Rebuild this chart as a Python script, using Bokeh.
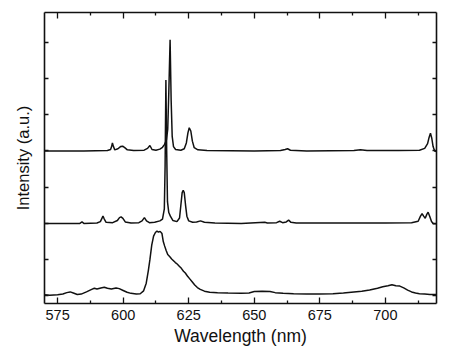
from bokeh.plotting import figure
from bokeh.models import LinearAxis, FixedTicker, Range1d, CustomLabelingPolicy
from bokeh.embed import file_html
from bokeh.resources import INLINE

# ---- data ----
top_x = [570, 585, 594, 595.2, 595.6, 595.9, 596.3, 596.8, 598, 599, 599.8, 600.6, 601.6, 604, 608,
         609.3, 610.2, 611, 612.5, 614, 615, 615.8, 616.5, 617.0, 617.4, 617.9, 618.3, 618.7, 619.2,
         620, 622, 623.3, 624.1, 624.7, 625.2, 625.8, 626.4, 627.1, 628.5, 632, 650, 660, 661.8,
         662.7, 663.8, 670, 688, 690.5, 693, 705, 713, 715, 716.1, 716.7, 717.2, 717.7, 718.2,
         718.8, 719.5]
top_y = [4.0, 4.0, 4.01, 4.04, 4.12, 4.22, 4.12, 4.03, 4.06, 4.12, 4.13, 4.09, 4.03, 4.01, 4.02,
         4.07, 4.15, 4.04, 4.02, 4.05, 4.1, 4.18, 4.3, 4.6, 5.6, 7.07, 5.4, 4.4, 4.12,
         4.04, 4.02, 4.06, 4.22, 4.5, 4.64, 4.55, 4.27, 4.09, 4.03, 4.01, 4.0, 4.01, 4.04,
         4.06, 4.02, 4.0, 4.01, 4.03, 4.01, 4.01, 4.02, 4.07, 4.2, 4.38, 4.49, 4.35, 4.12,
         4.0, 3.98]

mid_x = [570, 583.5, 584.3, 585, 590, 591.3, 591.9, 592.3, 592.8, 593.5, 596, 597.8, 598.6, 599.2,
         599.9, 600.8, 603, 606, 607.2, 608.1, 608.9, 610, 612, 614, 615, 615.7, 616.0, 616.3,
         616.6, 616.9, 617.4, 618, 619, 620.5, 621.5, 622, 622.5, 622.9, 623.3, 623.8, 624.3,
         625, 626.5, 628, 629.5, 631, 635, 645, 654, 655, 658.5, 659.7, 660.8, 662.2, 663.1,
         664, 666, 680, 700, 710, 712.5, 713.4, 714, 714.6, 715.2, 715.8, 716.3, 716.9, 717.6,
         718.3, 719.5]
mid_y = [2.0, 2.0, 2.04, 2.0, 2.01, 2.05, 2.14, 2.2, 2.12, 2.03, 2.02, 2.08, 2.16, 2.18,
         2.14, 2.04, 2.01, 2.02, 2.07, 2.16, 2.07, 2.02, 2.03, 2.07, 2.12, 2.4, 3.6, 5.96,
         4.0, 2.6, 2.3, 2.2, 2.08, 2.05, 2.15, 2.5, 2.85, 2.91, 2.85, 2.5, 2.2,
         2.07, 2.03, 2.04, 2.07, 2.03, 2.01, 2.0, 2.03, 2.01, 2.02, 2.06, 2.02, 2.04, 2.09,
         2.03, 2.01, 2.01, 2.01, 2.02, 2.06, 2.2, 2.27, 2.2, 2.14, 2.25, 2.31, 2.2, 2.05,
         1.99, 1.99]

bot_x = [570, 572, 575, 577, 578.5, 579.8, 581, 582.5, 584, 586, 588, 589, 590, 591.5, 592.8, 594,
         595.5, 597.3, 598.5, 600, 601.5, 603, 605, 606.5, 607.8, 608.8, 609.6, 610.2, 610.9,
         611.6, 612.3, 612.9, 613.5, 614.1, 614.8, 615.3, 615.8, 616.4, 617, 617.8, 618.5,
         619.2, 619.9, 620.6, 621.4, 622.2, 623, 623.7, 624.5, 625.4, 626.3, 627.3, 628.3,
         629.4, 631, 633, 636, 640, 645, 648, 650, 653, 656, 658, 661, 665, 670, 675, 680,
         684, 688, 691, 694, 697, 699, 701, 702.5, 704, 705.5, 707, 708.5, 710, 711.5, 713,
         715, 717, 719.5]
bot_y = [0.03, 0.02, 0.03, 0.05, 0.09, 0.11, 0.08, 0.04, 0.05, 0.11, 0.18, 0.21, 0.19, 0.22, 0.24, 0.21,
         0.19, 0.22, 0.2, 0.15, 0.1, 0.07, 0.05, 0.06, 0.14, 0.35, 0.7, 1.0, 1.4,
         1.65, 1.75, 1.79, 1.76, 1.78, 1.72, 1.5, 1.38, 1.25, 1.14, 1.08, 1.02,
         0.97, 0.92, 0.88, 0.82, 0.76, 0.68, 0.63, 0.55, 0.47, 0.39, 0.3, 0.23,
         0.18, 0.13, 0.1, 0.09, 0.08, 0.07, 0.08, 0.12, 0.13, 0.12, 0.09, 0.07, 0.06, 0.05, 0.05, 0.06,
         0.08, 0.11, 0.13, 0.16, 0.21, 0.25, 0.28, 0.31, 0.28, 0.27, 0.22, 0.16, 0.11, 0.08, 0.06,
         0.05, 0.04, 0.04]

x_major = [575, 600, 625, 650, 675, 700]
x_minor = [587.5, 612.5, 637.5, 662.5, 687.5, 712.5]
y_ticks = [0, 1, 2, 3, 4, 5, 6, 7]

FONT = "Liberation Sans"
INK = "#111111"

def no_labels():
    return CustomLabelingPolicy(code="""
        for (const i of Array.from(indices)) { indices.unset(i) }
        return indices
    """)

p = figure(width=450, height=357, output_backend="svg", toolbar_location=None,
           x_range=Range1d(570, 719.5), y_range=Range1d(-0.21, 7.82),
           min_border_left=44, min_border_right=14, min_border_top=12, min_border_bottom=54,
           background_fill_color="white", border_fill_color="white")
p.outline_line_color = None
p.xgrid.grid_line_color = None
p.ygrid.grid_line_color = None

for xs, ys in [(top_x, top_y), (mid_x, mid_y), (bot_x, bot_y)]:
    p.line(xs, ys, line_color=INK, line_width=1.5)

def style_x(ax, labels):
    ax.ticker = FixedTicker(ticks=x_major, minor_ticks=x_minor)
    ax.axis_line_color = INK
    ax.axis_line_width = 1.6
    ax.major_tick_line_color = INK
    ax.minor_tick_line_color = INK
    ax.major_tick_line_width = 1.3
    ax.minor_tick_line_width = 1.3
    ax.major_tick_in = 6
    ax.major_tick_out = 0
    ax.minor_tick_in = 3
    ax.minor_tick_out = 0
    if labels:
        ax.major_label_text_font = FONT
        ax.major_label_text_font_size = "14.5px"
        ax.major_label_text_color = INK
        ax.major_label_standoff = 6
    else:
        ax.major_label_text_font_size = "0px"
        ax.major_label_standoff = 0
        ax.major_label_policy = no_labels()

def style_y(ax):
    ax.ticker = FixedTicker(ticks=y_ticks, minor_ticks=[])
    ax.axis_line_color = INK
    ax.axis_line_width = 1.6
    ax.major_tick_line_color = INK
    ax.major_tick_line_width = 1.3
    ax.major_tick_in = 4
    ax.major_tick_out = 0
    ax.minor_tick_in = 0
    ax.minor_tick_out = 0
    ax.major_label_text_font_size = "0px"
    ax.major_label_standoff = 0
    ax.major_label_policy = no_labels()

xb = p.xaxis[0]
style_x(xb, True)
xb.axis_label = "Wavelength (nm)"
xb.axis_label_text_font = FONT
xb.axis_label_text_font_size = "17.5px"
xb.axis_label_text_font_style = "normal"
xb.axis_label_text_color = INK
xb.axis_label_standoff = 3

yl = p.yaxis[0]
style_y(yl)
yl.axis_label = "Intensity (a.u.)"
yl.axis_label_text_font = FONT
yl.axis_label_text_font_size = "16.5px"
yl.axis_label_text_font_style = "normal"
yl.axis_label_text_color = INK
yl.axis_label_standoff = 13

xt = LinearAxis()
style_x(xt, False)
p.add_layout(xt, "above")

yr = LinearAxis()
style_y(yr)
p.add_layout(yr, "right")

open("out.html", "w").write(file_html(p, INLINE))
